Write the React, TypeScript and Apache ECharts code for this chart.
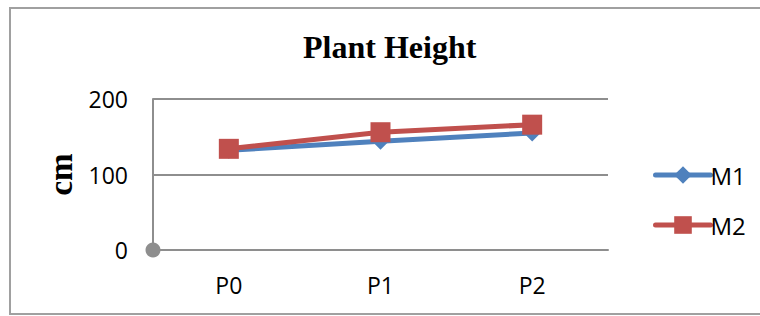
import React, { useEffect, useRef } from "react";
import * as echarts from "echarts";

const categories = ["P0", "P1", "P2"];
const m1Values = [132, 144, 155];
const m2Values = [134, 156, 166];
const yTicks = { min: 0, max: 200, interval: 100 };
const titleText = "Plant Height";
const yName = "cm";

export default function App() {
  const ref = useRef<HTMLDivElement>(null);
  useEffect(() => {
    if (!ref.current) return;
    const chart = echarts.init(ref.current, undefined, { renderer: "svg" });
    const sans = "'Open Sans', Carlito, sans-serif";
    const serif = "'Liberation Serif', 'Times New Roman', serif";
    chart.setOption({
      animation: false,
      backgroundColor: "#ffffff",
      title: {
        text: titleText,
        left: 303,
        top: 31,
        textStyle: { fontFamily: serif, fontWeight: "bold", fontSize: 32, color: "#000" },
        padding: 0,
        itemGap: 0,
      },
      graphic: [
        {
          type: "rect",
          shape: { x: 10, y: 8, width: 770, height: 306 },
          style: { fill: "none", stroke: "#a0a0a0", lineWidth: 2 },
          silent: true,
        },
      ],
      legend: {
        orient: "vertical",
        left: 648,
        top: 158,
        itemWidth: 55,
        itemHeight: 22,
        itemGap: 26,
        lineStyle: { width: 5, cap: "round" },
        textStyle: { fontFamily: sans, fontSize: 24, color: "#000", padding: [0, 0, 0, -5] },
        data: ["M1", "M2"],
      },
      grid: { left: 153, right: 152, top: 99, bottom: 66, containLabel: false },
      xAxis: {
        type: "category",
        data: categories,
        boundaryGap: true,
        axisLine: { show: true, lineStyle: { color: "#8e8e8e", width: 2 } },
        axisTick: { show: false },
        axisLabel: { fontFamily: sans, fontSize: 23, color: "#000", margin: 23 },
      },
      yAxis: {
        type: "value",
        min: yTicks.min,
        max: yTicks.max,
        interval: yTicks.interval,
        name: yName,
        nameLocation: "middle",
        nameRotate: 90,
        nameGap: 66,
        nameTextStyle: { fontFamily: serif, fontWeight: "bold", fontSize: 33, color: "#000" },
        axisLine: {
          show: true,
          lineStyle: { color: "#8e8e8e", width: 2 },
          symbol: ["circle", "none"],
          symbolSize: [15, 15],
        },
        axisTick: { show: false },
        axisLabel: { fontFamily: sans, fontSize: 23, color: "#000", margin: 25 },
        splitLine: { show: true, lineStyle: { color: "#8e8e8e", width: 2 } },
      },
      series: [
        {
          name: "M1",
          type: "line",
          data: m1Values,
          symbol: "diamond",
          symbolSize: 17,
          color: "#4f81bd",
          lineStyle: { color: "#4f81bd", width: 5 },
          itemStyle: { color: "#4f81bd" },
          z: 2,
        },
        {
          name: "M2",
          type: "line",
          data: m2Values,
          symbol: "rect",
          symbolSize: 20,
          color: "#c0504d",
          lineStyle: { color: "#c0504d", width: 5 },
          itemStyle: { color: "#c0504d" },
          z: 3,
        },
      ],
    });
    return () => chart.dispose();
  }, []);
  return (
    <div
      ref={ref}
      style={{ position: "fixed", left: 0, top: 0, width: 760, height: 316 }}
    />
  );
}
